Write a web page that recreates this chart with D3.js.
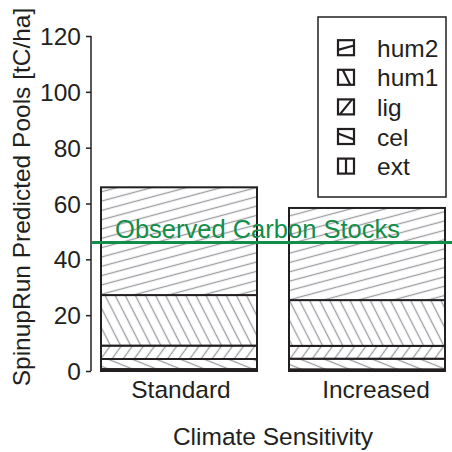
<!DOCTYPE html>
<html><head><meta charset="utf-8">
<script src="https://cdn.jsdelivr.net/npm/d3@7"></script>
<style>body{margin:0;background:#fff}svg{display:block}text{font-family:"Liberation Sans",Arial,sans-serif}</style>
</head><body>
<script>
const categories = ["Standard", "Increased"];
const pools = ["ext", "cel", "lig", "hum1", "hum2"];
const ext  = [0.7, 0.6];
const cel  = [3.6, 3.8];
const lig  = [4.8, 4.6];
const hum1 = [18.1, 16.4];
const hum2 = [38.6, 33.0];
const observed = 46;
const observedLabel = "Observed Carbon Stocks";
const yTicks = [0, 20, 40, 60, 80, 100, 120];
const legendOrder = ["hum2", "hum1", "lig", "cel", "ext"];

const series = {ext, cel, lig, hum1, hum2};
const rows = categories.map((c, i) => {
  const r = {cat: c};
  pools.forEach(p => r[p] = series[p][i]);
  return r;
});

const W = 452, H = 452;
const ink = "#231f20", hatch = "#9a9ea3", green = "#138d4a";
const svg = d3.select("body").append("svg").attr("width", W).attr("height", H);

const hatchDef = {hum2: -15, hum1: 63, lig: -54, cel: 22, ext: 90};
const defs = svg.append("defs");
Object.entries(hatchDef).forEach(([k, a]) => {
  const s = 9;
  const p = defs.append("pattern").attr("id", "h-" + k)
    .attr("patternUnits", "userSpaceOnUse").attr("width", s).attr("height", s)
    .attr("patternTransform", `rotate(${a})`);
  p.append("rect").attr("width", s).attr("height", s).attr("fill", "#fff");
  p.append("line").attr("x1", 0).attr("x2", s).attr("y1", s/2).attr("y2", s/2)
    .attr("stroke", hatch).attr("stroke-width", 1.3);
});

const y = d3.scaleLinear().domain([0, 120]).range([371, 36]);
const x = d3.scaleBand().domain(categories).range([101, 445]).paddingInner(32/188).paddingOuter(0);

const stack = d3.stack().keys(pools)(rows);

const gBars = svg.append("g");
stack.forEach(layer => {
  gBars.selectAll(null).data(layer).join("rect")
    .attr("x", d => x(d.data.cat))
    .attr("width", x.bandwidth())
    .attr("y", d => y(d[1]))
    .attr("height", d => y(d[0]) - y(d[1]))
    .attr("fill", `url(#h-${layer.key})`)
    .attr("stroke", ink).attr("stroke-width", 2);
});

const yAxis = svg.append("g").attr("transform", "translate(91,0)")
  .call(d3.axisLeft(y).tickValues(yTicks).tickSize(5).tickPadding(5));
yAxis.select(".domain").attr("stroke", ink).attr("stroke-width", 1.5).attr("d", `M0,${y(120)}V${y(0)}`);
yAxis.selectAll(".tick line").attr("stroke", ink).attr("stroke-width", 1.5);
yAxis.selectAll(".tick text").attr("fill", ink).style("font-size", "24.5px")
  .style("font-family", '"Liberation Sans",Arial,sans-serif').attr("dy", "0.35em");

const labelShift = {Standard: 2, Increased: 9};
svg.append("g").selectAll("text").data(categories).join("text")
  .attr("x", d => x(d) + x.bandwidth()/2 + labelShift[d]).attr("y", 398)
  .attr("text-anchor", "middle").attr("fill", ink).style("font-size", "24.5px").text(d => d);

svg.append("text").attr("x", 273).attr("y", 445).attr("text-anchor", "middle")
  .attr("fill", ink).style("font-size", "24.5px").text("Climate Sensitivity");

svg.append("text").attr("transform", `translate(30,${197}) rotate(-90)`)
  .attr("text-anchor", "middle").attr("fill", ink).style("font-size", "24.5px")
  .text("SpinupRun Predicted Pools [tC/ha]");

svg.append("line").attr("x1", 91).attr("x2", W).attr("y1", y(observed)).attr("y2", y(observed))
  .attr("stroke", green).attr("stroke-width", 3);
svg.append("text").attr("x", 257.5).attr("y", y(observed) - 5).attr("text-anchor", "middle")
  .attr("fill", green).style("font-size", "25.5px").text(observedLabel);

const lg = svg.append("g");
lg.append("rect").attr("x", 318).attr("y", 17).attr("width", 128).attr("height", 180)
  .attr("fill", "#fff").attr("stroke", ink).attr("stroke-width", 1.5);
const iconLine = {
  hum2: [0, 11, 17, 6], hum1: [5, 0, 13, 17], lig: [2, 17, 15, 0], cel: [0, 5, 17, 12], ext: [8.5, 0, 8.5, 17]
};
legendOrder.forEach((k, i) => {
  const base = 56.7 + i * 29.6;
  const g = lg.append("g").attr("transform", `translate(338,${base - 16.5})`);
  g.append("rect").attr("width", 16).attr("height", 15).attr("fill", "#fff")
    .attr("stroke", ink).attr("stroke-width", 2.2);
  const l = iconLine[k];
  g.append("line").attr("x1", l[0]*16/17).attr("y1", l[1]*15/17).attr("x2", l[2]*16/17).attr("y2", l[3]*15/17)
    .attr("stroke", ink).attr("stroke-width", 2.2);
  lg.append("text").attr("x", 377).attr("y", base).attr("fill", ink).style("font-size", "24.5px").text(k);
});
</script>
</body></html>
